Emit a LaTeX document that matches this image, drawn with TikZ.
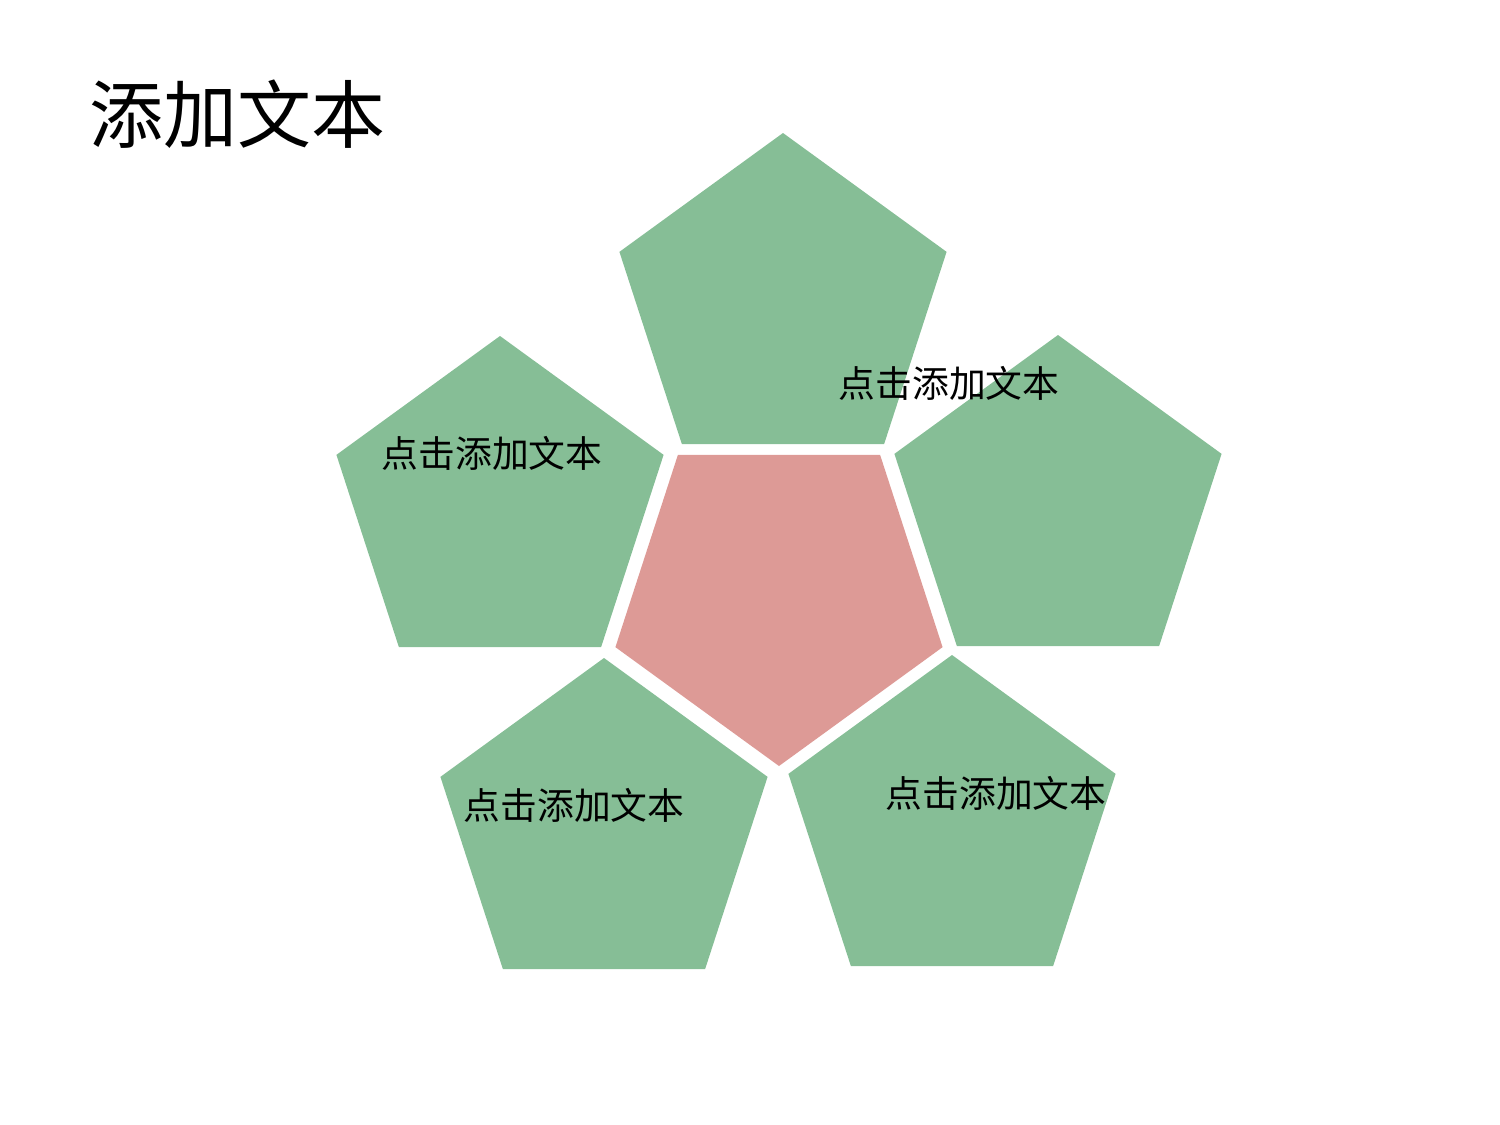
\documentclass[tikz,border=0pt]{standalone}
\usepackage{fontspec}
\newfontfamily\cjk{Noto Sans CJK SC}
\usepackage{tikz}
\usetikzlibrary{shapes.geometric}
\usetikzlibrary{positioning}
\usepackage{xcolor}
\definecolor{petalgreen}{RGB}{134,190,150}
\definecolor{corepink}{RGB}{221,154,150}
\tikzstyle{flower}=[
  x=0.5pt,y=-0.5pt,font=\cjk
]
\tikzstyle{petal}=[
  regular polygon, regular polygon sides=5, inner sep=0pt, outer sep=0pt,
  minimum size=172pt, fill=petalgreen
]
\tikzstyle{core}=[
  petal, shape border rotate=180, fill=corepink
]
\tikzstyle{label}=[
  font=\cjk\fontsize{18.4pt}{22pt}\selectfont, inner sep=0pt
]

\begin{document}
\begin{tikzpicture}[flower]
    \useasboundingbox (0,0) rectangle (1500,1125);
    \node (title) at (89,114) [anchor=west, inner sep=0pt, font=\cjk\fontsize{37pt}{44pt}\selectfont] {添加文本};
    \node (c) at (779,594) [core] {};
    \node (p1) at (783,305) [petal] {};
    \node (p2) at (1058,507) [petal] {};
    \node (p3) at (952,827) [petal] {};
    \node (p4) at (604,830) [petal] {};
    \node (p5) at (500,508) [petal] {};
    \node (t1) at (949,383) [label] {点击添加文本};
    \node (t3) at (996,793) [label] {点击添加文本};
    \node (t4) at (574,805) [label] {点击添加文本};
    \node (t5) at (492,453) [label] {点击添加文本};
\end{tikzpicture}
\end{document}
